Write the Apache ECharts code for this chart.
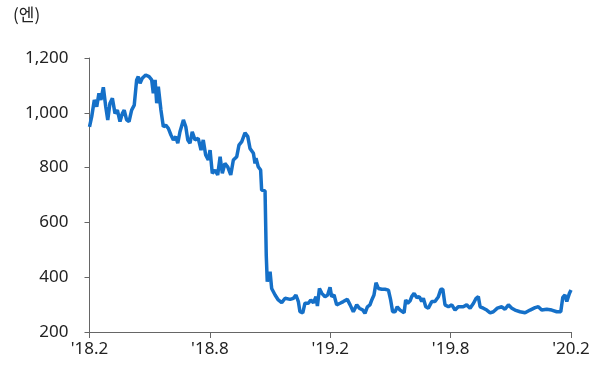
<!DOCTYPE html>
<html>
<head>
<meta charset="utf-8">
<script src="https://cdn.jsdelivr.net/npm/echarts@6/dist/echarts.min.js"></script>
<style>
  html, body { margin: 0; padding: 0; background: #fff; }
  #chart { width: 603px; height: 367px; }
</style>
</head>
<body>
<div id="chart"></div>
<script>
// months since Feb 2018
const months = [
  0, 0.11, 0.24, 0.36, 0.47, 0.57, 0.69, 0.81, 0.91, 1.02, 1.14, 1.27, 1.39, 1.52, 1.64, 1.73, 1.85, 1.97,
  2.10, 2.23, 2.35, 2.43, 2.52, 2.63, 2.80, 2.97, 3.10, 3.18, 3.27, 3.35, 3.43, 3.56, 3.68, 3.80, 3.93,
  4.06, 4.18, 4.30, 4.40, 4.51, 4.68, 4.80, 4.90, 5.01, 5.12, 5.26, 5.42, 5.56, 5.67, 5.79, 5.92,
  6.01, 6.12, 6.26, 6.39, 6.51, 6.62, 6.75, 6.89, 7.04, 7.17, 7.34, 7.45, 7.59, 7.75, 7.89, 8.00,
  8.17, 8.25, 8.30, 8.41, 8.53, 8.58, 8.75, 8.81, 8.86, 9.00, 9.08, 9.25, 9.41, 9.58, 9.75, 10.00,
  10.16, 10.29, 10.41, 10.49, 10.63, 10.74, 10.91, 11.03, 11.16, 11.29, 11.36, 11.46, 11.58, 11.74,
  11.87, 11.99, 12.07, 12.19, 12.32, 12.49, 12.65, 12.85, 12.99, 13.15, 13.32, 13.45, 13.62, 13.73,
  13.85, 13.98, 14.07, 14.18, 14.28, 14.40, 14.57, 14.73, 14.90, 15.01, 15.11, 15.23, 15.34, 15.48,
  15.56, 15.68, 15.76, 15.86, 15.98, 16.06, 16.18, 16.31, 16.44, 16.56, 16.64, 16.76, 16.89, 17.06,
  17.22, 17.39, 17.51, 17.61, 17.72, 17.89, 18.06, 18.22, 18.38, 18.63, 18.80, 18.97, 19.14, 19.27,
  19.38, 19.47, 19.63, 19.80, 19.97, 20.13, 20.33, 20.55, 20.71, 20.88, 21.05, 21.21, 21.46, 21.71,
  21.96, 22.21, 22.37, 22.54, 22.79, 23.04, 23.29, 23.49, 23.59, 23.70, 23.79, 23.92, 24.00
];
const yen = [
  949, 986, 1047, 1022, 1071, 1047, 1093, 1022, 974, 1035, 1053, 998, 1010, 968, 998, 1010, 974, 968,
  1010, 1028, 1120, 1132, 1108, 1126, 1138, 1132, 1120, 1071, 1120, 1035, 1095, 1010, 949, 955, 943,
  919, 901, 913, 889, 931, 974, 949, 901, 889, 931, 901, 907, 864, 901, 846, 828,
  864, 779, 791, 773, 840, 779, 815, 803, 773, 828, 840, 882, 895, 927, 913, 870,
  852, 815, 834, 803, 791, 718, 715, 480, 384, 420, 359, 335, 317, 307, 323, 319,
  323, 335, 311, 274, 270, 305, 305, 317, 307, 329, 295, 359, 341, 329,
  335, 363, 329, 335, 299, 305, 311, 319, 299, 274, 299, 287, 280, 268,
  292, 299, 317, 335, 380, 359, 356, 356, 353, 317, 274, 274, 292, 280,
  287, 270, 317, 305, 314, 329, 341, 326, 329, 311, 323, 292, 287, 311,
  311, 329, 356, 356, 299, 292, 299, 280, 292, 292, 299, 287, 305, 323,
  329, 292, 287, 280, 270, 274, 287, 292, 283, 299, 287, 280, 274, 270,
  280, 289, 292, 280, 283, 280, 274, 274, 326, 335, 311, 341, 353
];
const xTicks = ["'18.2", "'18.8", "'19.2", "'19.8", "'20.2"];
const unitLabel = '(엔)';

const font = '"Noto Sans", "Noto Sans CJK KR", sans-serif';
const chart = echarts.init(document.getElementById('chart'));
chart.setOption({
  animation: false,
  grid: { left: 89.5, right: 32, top: 58, bottom: 35 },
  graphic: [{
    type: 'text', left: 13, top: 6,
    style: { text: unitLabel, font: '17px "Noto Sans CJK KR", sans-serif', fill: '#222' }
  }],
  xAxis: {
    type: 'value', min: 0, max: 24, interval: 6,
    axisLine: { lineStyle: { color: '#666', width: 1 } },
    axisTick: { show: true, length: 6, lineStyle: { color: '#666' } },
    splitLine: { show: false },
    axisLabel: {
      margin: 9, fontSize: 17, fontFamily: font, color: '#222',
      formatter: v => xTicks[v / 6]
    }
  },
  yAxis: {
    type: 'value', min: 200, max: 1200, interval: 200,
    axisLine: { show: true, lineStyle: { color: '#666', width: 1 } },
    axisTick: { show: true, length: 5, lineStyle: { color: '#666' } },
    splitLine: { show: false },
    axisLabel: {
      margin: 21, fontSize: 17, fontFamily: font, color: '#222',
      formatter: v => v.toLocaleString('en-US')
    }
  },
  series: [{
    type: 'line',
    data: months.map((m, i) => [m, yen[i]]),
    showSymbol: false,
    lineStyle: { color: '#1570c8', width: 3.5 },
    itemStyle: { color: '#1570c8' }
  }]
});
</script>
</body>
</html>
